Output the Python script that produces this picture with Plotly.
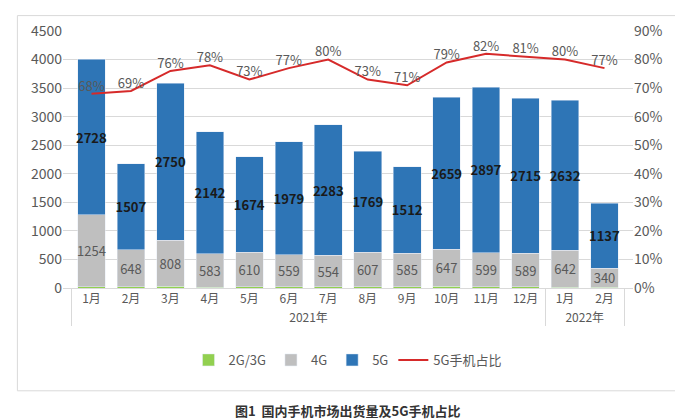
import plotly.graph_objects as go

years = ["2021年"]*12 + ["2022年"]*2
months = [f"{i}月" for i in range(1, 13)] + ["1月", "2月"]
g23 = [25, 22, 30, 15, 18, 20, 20, 22, 25, 30, 20, 18, 15, 10]
g4 = [1254, 648, 808, 583, 610, 559, 554, 607, 585, 647, 599, 589, 642, 340]
g5 = [2728, 1507, 2750, 2142, 1674, 1979, 2283, 1769, 1512, 2659, 2897, 2715, 2632, 1137]
ratio = [68, 69, 76, 78, 73, 77, 80, 73, 71, 79, 82, 81, 80, 77]

x = [years, months]
fnt = dict(family="Noto Sans CJK SC", size=13, color="#595959")
fig = go.Figure()
fig.add_bar(x=x, y=g23, name="2G/3G", marker_color="#92D050")
fig.add_bar(x=x, y=g4, name="4G", marker_color="#BFBFBF", text=g4, textposition="inside",
            textangle=0, constraintext="none", insidetextanchor="middle",
            textfont=dict(family="Noto Sans CJK SC", size=13, color="#595959"))
fig.add_bar(x=x, y=g5, name="5G", marker_color="#2E75B6", text=g5, textposition="inside",
            textangle=0, constraintext="none", insidetextanchor="middle",
            textfont=dict(family="Noto Sans CJK SC", size=13, color="#1a1a1a", weight="bold"))
fig.add_scatter(x=x, y=ratio, name="5G手机占比", yaxis="y2", mode="lines+text",
                line=dict(color="#D62A2A", width=2), text=[f"{r}%" for r in ratio],
                textposition="top center", textfont=fnt)
fig.update_layout(
    width=683, height=420, barmode="stack", bargap=0.3,
    paper_bgcolor="white", plot_bgcolor="white",
    font=fnt, margin=dict(l=55, r=58, t=20, b=140),
    xaxis=dict(type="multicategory", showline=True, linecolor="#D9D9D9", showdividers=True,
               dividercolor="#D9D9D9", tickfont=dict(size=12, color="#595959")),
    yaxis=dict(range=[0, 4500], dtick=500, gridcolor="#D9D9D9", showline=False, zeroline=False,
               tickfont=dict(size=14)),
    yaxis2=dict(range=[0, 90], dtick=10, ticksuffix="%", overlaying="y", side="right",
                showgrid=False, zeroline=False, tickfont=dict(size=14)),
    legend=dict(orientation="h", x=0.5, xanchor="center", y=-0.28, yanchor="middle",
                traceorder="normal", font=dict(size=13)),
    shapes=[dict(type="rect", xref="paper", yref="paper", x0=-0.08, x1=1.075, y0=-0.40, y1=1.06,
                 line=dict(color="#D9D9D9", width=1))],
    annotations=[dict(text="<b>图1  国内手机市场出货量及5G手机占比</b>", xref="paper", yref="paper",
                      x=0.5, y=-0.475, yanchor="middle", showarrow=False, font=dict(size=13, color="#333"))],
)
fig.write_html("out.html")
